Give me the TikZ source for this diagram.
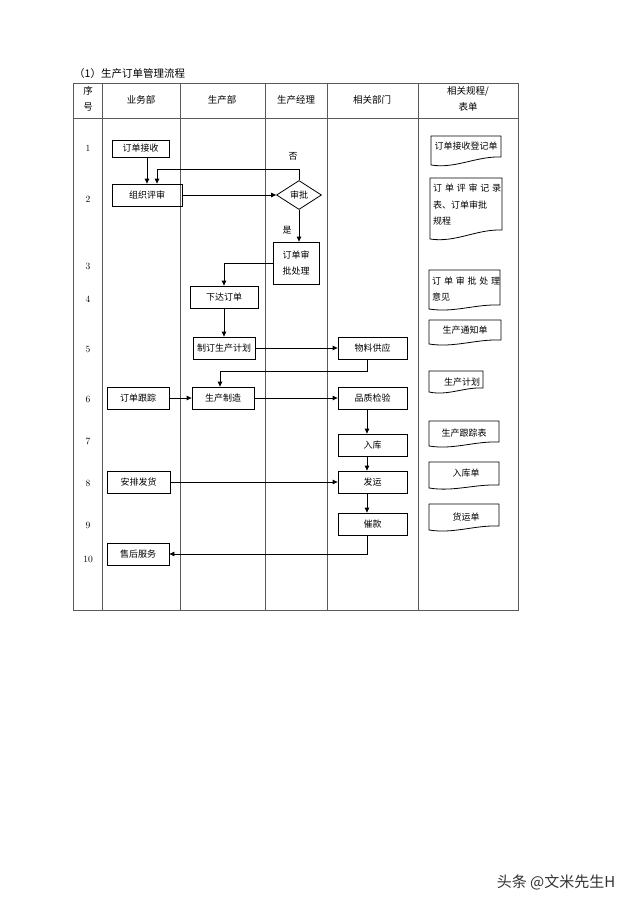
\documentclass[tikz,border=0pt]{standalone}
\usepackage{fontspec}
\newfontfamily\cjk{Noto Sans CJK SC}
\usetikzlibrary{arrows.meta,shapes.geometric}
\newcommand{\docsh}[5]{% x1 ytop x2 yleftbottom yrightbottom
  \draw[docline] (#1,#2) -- (#3,#2) -- (#3,#5)
    .. controls ({#1+0.65*(#3-#1)},{#5-1}) and ({#1+0.35*(#3-#1)},{#4+4}) .. (#1,#4) -- cycle;}
\begin{document}
\begin{tikzpicture}[x=1pt,y=-1pt,
  grid/.style={draw=black!65,line width=0.8pt},
  box/.style={draw=black,line width=0.8pt,inner sep=0pt,font=\cjk\fontsize{9}{16}\selectfont,align=center},
  arr/.style={draw=black,line width=0.8pt,-{Triangle[length=5pt,width=4.5pt]}},
  lab/.style={font=\cjk\fontsize{9}{11}\selectfont,inner sep=0pt},
  num/.style={font=\fontsize{9.5}{11}\selectfont,inner sep=0pt},
  hdr/.style={font=\cjk\fontsize{9.5}{16}\selectfont,inner sep=0pt,align=center},
  docline/.style={draw=black,line width=0.8pt},
  doct/.style={font=\cjk\fontsize{9}{11}\selectfont,inner sep=0pt}]
\fill[white] (0,0) rectangle (640,905);
\useasboundingbox (0,0) rectangle (640,905);

% title
\node[font=\cjk\fontsize{10.5}{12}\selectfont,anchor=west,inner sep=0pt] (title) at (74,74) {（1）生产订单管理流程};

% table
\draw[grid] (73,83) rectangle (518,610);
\draw[grid] (73,118) -- (518,118);
\foreach \x in {102,180,265,327,418} \draw[grid] (\x,83) -- (\x,610);

% header
\node[hdr] (h0) at (88,99) {序\\号};
\node[hdr] (h1) at (141,100) {业务部};
\node[hdr] (h2) at (222,100) {生产部};
\node[hdr] (h3) at (296,100) {生产经理};
\node[hdr] (h4) at (372,100) {相关部门};
\node[hdr] (h5) at (468,99) {相关规程/\\表单};

% row numbers
\node[num] (n1) at (88,148) {1};
\node[num] (n2) at (88,199) {2};
\node[num] (n3) at (88,266) {3};
\node[num] (n4) at (88,299) {4};
\node[num] (n5) at (88,349) {5};
\node[num] (n6) at (88,399) {6};
\node[num] (n7) at (88,441) {7};
\node[num] (n8) at (88,483) {8};
\node[num] (n9) at (88,525) {9};
\node[num] (n10) at (88,559) {10};

% process boxes
\node[box,minimum width=57,minimum height=17] (b1) at (140.5,148.5) {订单接收};
\node[box,minimum width=70,minimum height=22] (b2) at (147,195) {组织评审};
\node[draw=black,line width=0.8pt,diamond,inner sep=0pt,minimum width=45,minimum height=29,font=\cjk\fontsize{9}{11}\selectfont] (d) at (299,195) {审批};
\node[box,minimum width=46,minimum height=42] (b3) at (296,263) {订单审\\批处理};
\node[box,minimum width=68,minimum height=22] (b4) at (224,297) {下达订单};
\node[box,minimum width=62,minimum height=22] (b5) at (224,348) {制订生产计划};
\node[box,minimum width=69,minimum height=22] (b6) at (372.5,348) {物料供应};
\node[box,minimum width=62,minimum height=22] (b7) at (223,398) {生产制造};
\node[box,minimum width=62,minimum height=22] (b8) at (138,398) {订单跟踪};
\node[box,minimum width=69,minimum height=22] (b9) at (372.5,398) {品质检验};
\node[box,minimum width=69,minimum height=22] (b10) at (372.5,445) {入库};
\node[box,minimum width=63,minimum height=22] (b12) at (138.5,482) {安排发货};
\node[box,minimum width=69,minimum height=22] (b11) at (372.5,482) {发运};
\node[box,minimum width=69,minimum height=22] (b13) at (372.5,524) {催款};
\node[box,minimum width=62,minimum height=22] (b14) at (138,554) {售后服务};

% labels
\node[lab] (no) at (293,156) {否};
\node[lab] (yes) at (287,230) {是};

% connectors
\draw[arr] (b2.north |- b1.south) -- (b2.north);
\coordinate (lp) at (157,169);
\draw[arr] (d.north) |- (lp) -- (lp |- b2.north);
\draw[arr] (b2.east) -- (d.west);
\draw[arr] (d.south) -- (d.south |- b3.north);
\draw[arr] (b3.west) -| (b4.north);
\draw[arr] (b4.south) -- (b5.north);
\draw[arr] (b5.east) -- (b6.west);
\draw[arr] ([xshift=-5.5pt]b6.south) -- ++(0,12) -| ([xshift=-3pt]b7.north);
\draw[arr] (b8.east) -- (b7.west);
\draw[arr] (b7.east) -- (b9.west);
\draw[arr] ([xshift=-5.5pt]b9.south) -- ([xshift=-5.5pt]b10.north);
\draw[arr] ([xshift=-5.5pt]b10.south) -- ([xshift=-5.5pt]b11.north);
\draw[arr] (b12.east) -- (b11.west);
\draw[arr] ([xshift=-5.5pt]b11.south) -- ([xshift=-5.5pt]b13.north);
\draw[arr] ([xshift=-5.5pt]b13.south) |- (b14.east);

% documents
\docsh{431}{136}{501}{165}{157}
\node[doct] (t1) at (466,146) {订单接收登记单};
\docsh{430}{178}{502}{239}{230}
\node[doct,anchor=west] (t2a) at (433,188) {\makebox[68pt][s]{订\hfil 单\hfil 评\hfil 审\hfil 记\hfil 录}};
\node[doct,anchor=west] (t2b) at (433,205) {表、订单审批};
\node[doct,anchor=west] (t2c) at (433,221) {规程};
\docsh{429}{270}{500}{309}{305}
\node[doct,anchor=west] (t3a) at (432,281) {\makebox[68pt][s]{订\hfil 单\hfil 审\hfil 批\hfil 处\hfil 理}};
\node[doct,anchor=west] (t3b) at (432,297) {意见};
\docsh{429}{320}{501}{344}{340}
\node[doct] (t4) at (465,330) {生产通知单};
\docsh{429}{371}{483}{392}{388}
\node[doct] (t5) at (462,382) {生产计划};
\docsh{429}{421}{499}{446}{442}
\node[doct] (t6) at (464,433) {生产跟踪表};
\docsh{429}{462}{499}{488}{485}
\node[doct] (t7) at (466,473) {入库单};
\docsh{429}{504}{499}{530}{526}
\node[doct] (t8) at (466,517) {货运单};

% watermark
\node[font=\cjk\fontsize{15}{15}\selectfont,text=black!80,inner sep=0pt] (wm) at (556,882) {头条 @文米先生H};
\end{tikzpicture}
\end{document}
